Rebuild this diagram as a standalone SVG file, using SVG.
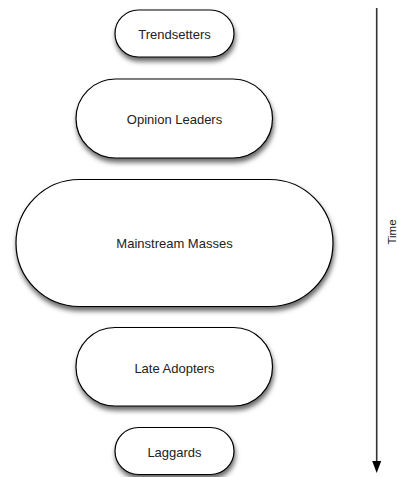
<svg xmlns="http://www.w3.org/2000/svg" width="397" height="477" viewBox="0 0 397 477">
<defs>
<filter id="sh" x="-20%" y="-20%" width="150%" height="160%">
<feDropShadow dx="1" dy="4" stdDeviation="2.5" flood-color="#000" flood-opacity="0.6"/>
</filter>
</defs>
<style>
.n{fill:#fff;stroke:#000;stroke-width:1.2;filter:url(#sh)}
.t{font-family:"Liberation Sans",Arial,sans-serif;font-size:13px;fill:#222;text-anchor:middle;dominant-baseline:central}
</style>
<rect width="397" height="477" fill="#fff"/>
<g id="connectors">
<line x1="376.7" y1="8" x2="376.7" y2="462" stroke="#333" stroke-width="1.6"/>
<path d="M372.2,461 L381.2,461 L376.7,473 Z" fill="#000"/>
<text class="t" transform="translate(391.5,232) rotate(-90)" style="font-size:11.5px">Time</text>
</g>
<g id="trendsetters">
<rect class="n" x="115" y="10" width="119" height="47" rx="23.5"/>
<text class="t" x="174.5" y="34">Trendsetters</text>
</g>
<g id="opinion-leaders">
<rect class="n" x="76" y="79" width="196.5" height="79" rx="39.5"/>
<text class="t" x="174.5" y="119">Opinion Leaders</text>
</g>
<g id="mainstream-masses">
<rect class="n" x="16" y="179.5" width="317" height="127" rx="63.5"/>
<text class="t" x="174.5" y="243">Mainstream Masses</text>
</g>
<g id="late-adopters">
<rect class="n" x="76" y="327.5" width="196.5" height="78.5" rx="39"/>
<text class="t" x="174.5" y="368">Late Adopters</text>
</g>
<g id="laggards">
<rect class="n" x="115" y="427.5" width="119" height="47" rx="23.5"/>
<text class="t" x="174.5" y="452">Laggards</text>
</g>
</svg>
